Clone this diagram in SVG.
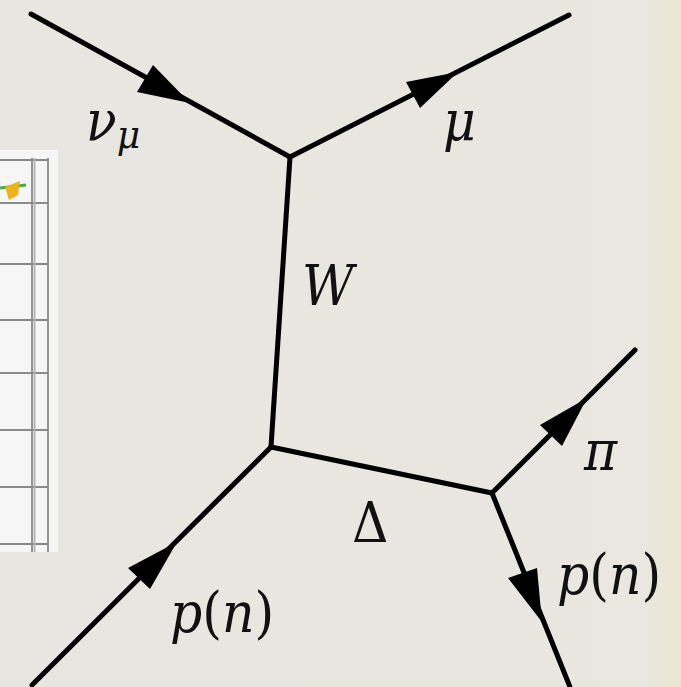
<svg xmlns="http://www.w3.org/2000/svg" width="681" height="687" viewBox="0 0 681 687">
<defs>
<linearGradient id="bg" x1="0" y1="0" x2="1" y2="0">
<stop offset="0" stop-color="#e7e6e0"/>
<stop offset="0.95" stop-color="#e9e7df"/>
<stop offset="1" stop-color="#ece5d2"/>
</linearGradient>
<style>
.ln{stroke:#000;stroke-width:5;fill:none;stroke-linecap:round;stroke-linejoin:round}
.ah{fill:#000}
.lb{font-family:"DejaVu Serif Condensed","DejaVu Serif",serif;font-size:56px;fill:#111}
.it{font-style:italic}
.grid{stroke:#8a8a8a;stroke-width:1.8;fill:none}
</style>
</defs>
<rect width="681" height="687" fill="url(#bg)"/>
<g id="chart">
<rect x="0" y="150" width="58" height="402" fill="#f6f6f6"/>
<g class="grid">
<line x1="0" y1="160" x2="48" y2="160"/>
<line x1="0" y1="203" x2="48" y2="203"/>
<line x1="0" y1="264" x2="48" y2="264"/>
<line x1="0" y1="320" x2="48" y2="320"/>
<line x1="0" y1="373" x2="48" y2="373"/>
<line x1="0" y1="430" x2="48" y2="430"/>
<line x1="0" y1="487" x2="48" y2="487"/>
<line x1="0" y1="544" x2="48" y2="544"/>
<line x1="32" y1="158" x2="32" y2="552"/>
<line x1="34.5" y1="158" x2="34.5" y2="552" stroke="#b0b0b0"/>
<line x1="48" y1="158" x2="48" y2="552"/>
</g>
<line x1="0" y1="188" x2="26" y2="185" stroke="#3fae49" stroke-width="3"/>
<path d="M5 187 L20 181 L18 195 L9 200 Z" fill="#f0b21a"/>
</g>
<g id="connectors">
<line class="ln" x1="31" y1="14" x2="290" y2="157"/>
<polygon class="ah" points="190,103 153,65 137,92"/>
<line class="ln" x1="290" y1="157" x2="569" y2="15"/>
<polygon class="ah" points="458,72 406,82 420,108"/>
<line class="ln" x1="290" y1="157" x2="271" y2="447"/>
<line class="ln" x1="32" y1="685" x2="271" y2="447"/>
<polygon class="ah" points="177,542 128,568 150,589"/>
<line class="ln" x1="271" y1="447" x2="492" y2="493"/>
<line class="ln" x1="492" y1="493" x2="635" y2="350"/>
<polygon class="ah" points="587,398 540,425 562,446"/>
<line class="ln" x1="492" y1="493" x2="570" y2="687"/>
<polygon class="ah" points="542,622 508,578 537,568"/>
</g>
<g id="nu_mu"><text class="lb" x="86" y="140"><tspan class="it">ν</tspan><tspan class="it" font-size="40" dy="8">μ</tspan></text></g>
<g id="mu"><text class="lb it" x="443" y="140">μ</text></g>
<g id="W"><text class="lb it" x="302" y="305">W</text></g>
<g id="Delta"><text class="lb" x="352" y="542">Δ</text></g>
<g id="pi"><text class="lb it" x="584" y="470">π</text></g>
<g id="pn_out"><text class="lb" x="557" y="594"><tspan class="it">p</tspan>(<tspan class="it">n</tspan>)</text></g>
<g id="pn_in"><text class="lb" x="170" y="632"><tspan class="it">p</tspan>(<tspan class="it">n</tspan>)</text></g>
</svg>
